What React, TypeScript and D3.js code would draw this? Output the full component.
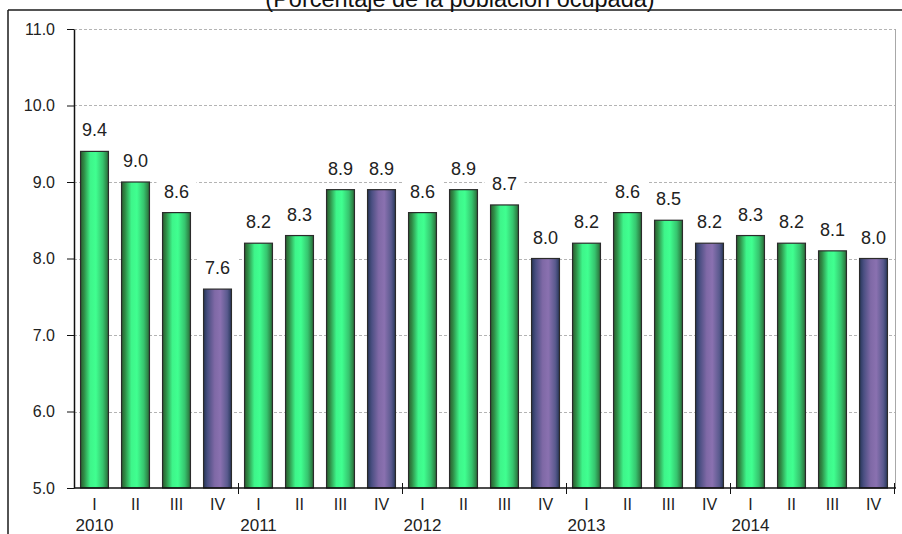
import React, { useEffect, useRef } from 'react';
import * as d3 from 'd3';

// chart data
const years = ['2010', '2011', '2012', '2013', '2014'];
const quarters = ['I', 'II', 'III', 'IV'];
const values = [
  9.4, 9.0, 8.6, 7.6,
  8.2, 8.3, 8.9, 8.9,
  8.6, 8.9, 8.7, 8.0,
  8.2, 8.6, 8.5, 8.2,
  8.3, 8.2, 8.1, 8.0,
];
const yTicks = [5, 6, 7, 8, 9, 10, 11];
const title = '(Porcentaje de la población ocupada)';

function App() {
  const ref = useRef<SVGSVGElement | null>(null);

  useEffect(() => {
    drawChart();
  }, []);

  function drawChart() {
    const svg = d3.select(ref.current);
    svg.selectAll('*').remove();

    const left = 74, right = 894, top = 29, bottom = 488;
    const font = 'Arial, "Liberation Sans", sans-serif';

    const points = values.map((v, i) => ({
      v,
      i,
      q: quarters[i % 4],
      year: years[Math.floor(i / 4)],
    }));

    const xScale = d3
      .scaleBand<number>()
      .domain(points.map(d => d.i))
      .range([left, right])
      .paddingInner(0.32)
      .paddingOuter(0.16);
    const step = xScale.step();

    const yScale = d3.scaleLinear().domain([5, 11]).range([bottom, top]);

    // gradients for the bars
    const defs = svg.append('defs');
    const grad = (id: string, stops: [number, string][]) => {
      const g = defs
        .append('linearGradient')
        .attr('id', id)
        .attr('x1', '0%')
        .attr('x2', '100%')
        .attr('y1', '0%')
        .attr('y2', '0%');
      stops.forEach(s => g.append('stop').attr('offset', s[0]).attr('stop-color', s[1]));
    };
    grad('gGreen', [
      [0, '#2c5e31'],
      [0.12, '#2f8a45'],
      [0.35, '#3ef58a'],
      [0.55, '#40ff90'],
      [0.8, '#36c46e'],
      [1, '#2a6b37'],
    ]);
    grad('gPurple', [
      [0, '#263659'],
      [0.15, '#4a4f82'],
      [0.4, '#7f69a6'],
      [0.6, '#8a71b0'],
      [0.85, '#5a5a8e'],
      [1, '#28385c'],
    ]);

    // outer frame
    svg.append('line').attr('x1', 8).attr('x2', 902).attr('y1', 10).attr('y2', 10)
      .attr('stroke', '#1a1a1a').attr('stroke-width', 1.5);
    svg.append('line').attr('x1', 8).attr('x2', 8).attr('y1', 10).attr('y2', 534)
      .attr('stroke', '#1a1a1a').attr('stroke-width', 1.5);

    // title, mostly cut off at the top
    svg.append('text')
      .attr('x', 460)
      .attr('y', 7)
      .attr('text-anchor', 'middle')
      .attr('font-family', font)
      .style('font-size', '23.5px')
      .attr('fill', '#111')
      .text(title);

    // grid lines
    svg.append('g')
      .selectAll('line')
      .data(yTicks.filter(t => t > 5))
      .enter()
      .append('line')
      .attr('x1', left)
      .attr('x2', right + 1)
      .attr('y1', d => Math.round(yScale(d)) + 0.5)
      .attr('y2', d => Math.round(yScale(d)) + 0.5)
      .attr('stroke', '#b4b4b4')
      .attr('stroke-dasharray', '3,2');

    // right border of plot area
    svg.append('line')
      .attr('x1', right + 1.5).attr('x2', right + 1.5)
      .attr('y1', top).attr('y2', bottom)
      .attr('stroke', '#a8a8a8');

    // value labels with white boxes
    const labels = svg.append('g')
      .selectAll('g')
      .data(points)
      .enter()
      .append('g')
      .attr('transform', d => `translate(${xScale(d.i)! + xScale.bandwidth() / 2},${yScale(d.v) - 15})`);
    labels.append('rect')
      .attr('x', -20)
      .attr('y', -18)
      .attr('width', 40)
      .attr('height', 24)
      .attr('fill', '#fff');
    labels.append('text')
      .attr('text-anchor', 'middle')
      .attr('font-family', font)
      .style('font-size', '18px')
      .attr('fill', '#222')
      .text(d => d.v.toFixed(1));

    // bars
    svg.append('g')
      .selectAll('rect')
      .data(points)
      .enter()
      .append('rect')
      .attr('x', d => xScale(d.i)!)
      .attr('y', d => yScale(d.v))
      .attr('width', xScale.bandwidth())
      .attr('height', d => bottom - yScale(d.v))
      .attr('fill', d => (d.q === 'IV' ? 'url(#gPurple)' : 'url(#gGreen)'))
      .attr('stroke', '#2b2b2b')
      .attr('stroke-width', 1.2);

    // y axis
    const yAxis = svg.append('g')
      .attr('transform', `translate(${left},0)`)
      .call(
        d3.axisLeft(yScale)
          .tickValues(yTicks)
          .tickFormat(d3.format('.1f'))
          .tickSize(7)
          .tickSizeOuter(0)
          .tickPadding(12)
      );
    yAxis.select('.domain').attr('stroke', '#111').attr('stroke-width', 1.5);
    yAxis.selectAll('line').attr('stroke', '#111');
    yAxis.selectAll('text')
      .attr('font-family', font)
      .style('font-size', '16px')
      .attr('fill', '#222');

    // x axis line
    svg.append('line')
      .attr('x1', left).attr('x2', right + 2)
      .attr('y1', bottom).attr('y2', bottom)
      .attr('stroke', '#111').attr('stroke-width', 1.5);

    // year separators
    svg.append('g')
      .selectAll('line')
      .data(years)
      .enter()
      .append('line')
      .attr('x1', (d, k) => left + step * 4 * (k + 1) + 0.5)
      .attr('x2', (d, k) => left + step * 4 * (k + 1) + 0.5)
      .attr('y1', bottom - 5)
      .attr('y2', bottom + 6)
      .attr('stroke', '#111');

    // quarter labels
    svg.append('g')
      .selectAll('text')
      .data(points)
      .enter()
      .append('text')
      .attr('x', d => xScale(d.i)! + xScale.bandwidth() / 2)
      .attr('y', 510)
      .attr('text-anchor', 'middle')
      .attr('font-family', font)
      .style('font-size', '16px')
      .attr('fill', '#222')
      .text(d => d.q);

    // year labels under the first quarter
    svg.append('g')
      .selectAll('text')
      .data(points.filter(d => d.q === 'I'))
      .enter()
      .append('text')
      .attr('x', d => xScale(d.i)! + xScale.bandwidth() / 2)
      .attr('y', 531)
      .attr('text-anchor', 'middle')
      .attr('font-family', font)
      .style('font-size', '17px')
      .attr('fill', '#222')
      .text(d => d.year);
  }

  return (
    <svg
      ref={ref}
      width={902}
      height={534}
      style={{ position: 'absolute', left: 0, top: 0, background: '#fff' }}
    />
  );
}

export default App;
